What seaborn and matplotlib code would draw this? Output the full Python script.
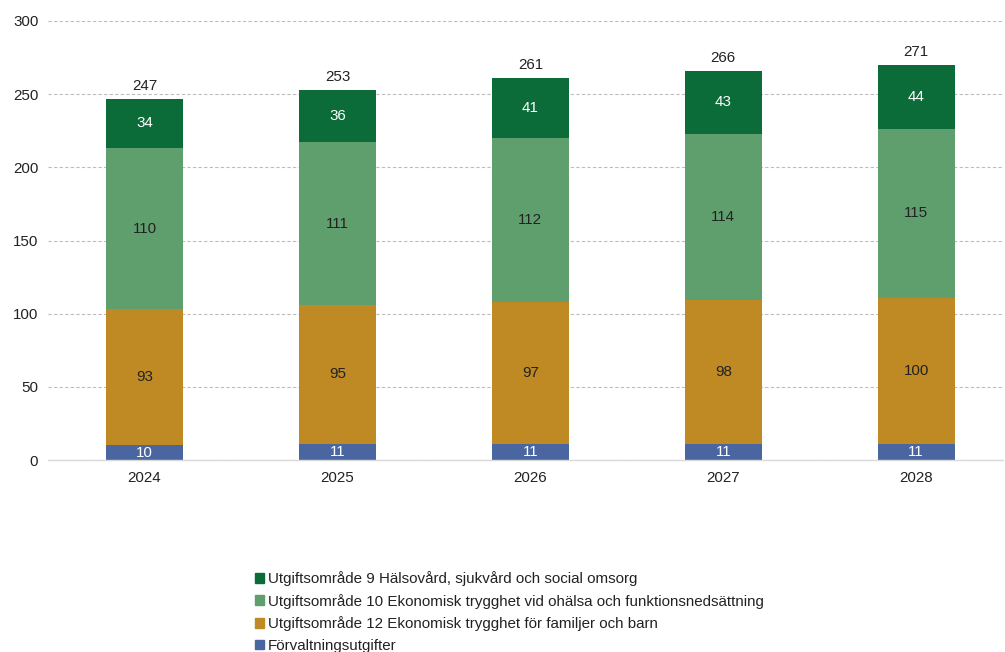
import numpy as np
import pandas as pd
import matplotlib
matplotlib.use("Agg")
import matplotlib.pyplot as plt
import seaborn as sns
from matplotlib.patches import Patch

years = ["2024", "2025", "2026", "2027", "2028"]
forvaltning = [10, 11, 11, 11, 11]
uo12 = [93, 95, 97, 98, 100]
uo10 = [110, 111, 112, 114, 115]
uo9 = [34, 36, 41, 43, 44]
totals = [247, 253, 261, 266, 271]

series_names = [
    "Förvaltningsutgifter",
    "Utgiftsområde 12 Ekonomisk trygghet för familjer och barn",
    "Utgiftsområde 10 Ekonomisk trygghet vid ohälsa och funktionsnedsättning",
    "Utgiftsområde 9 Hälsovård, sjukvård och social omsorg",
]
series_values = [forvaltning, uo12, uo10, uo9]
colors = ["#4a66a1", "#bf8a24", "#5f9f6e", "#0b6b39"]
label_colors = ["white", "#222222", "#222222", "white"]

sns.set_theme(style="white")
plt.rcParams["font.family"] = ["Liberation Sans", "DejaVu Sans"]

FS = 10.9

fig = plt.figure(figsize=(10.05, 6.52), dpi=100)
ax = fig.add_axes([48 / 1005, 192 / 652, 955 / 1005, 439 / 652])

bottom = np.zeros(len(years))
for name, vals, col, lc in zip(series_names, series_values, colors, label_colors):
    df = pd.DataFrame({"year": years, "value": vals})
    sns.barplot(data=df, x="year", y="value", color=col, width=0.4,
                bottom=bottom, ax=ax, saturation=1, errorbar=None,
                linewidth=0, edgecolor=col)
    for i, v in enumerate(vals):
        ax.text(i, bottom[i] + v / 2, str(v), ha="center", va="center",
                fontsize=FS, color=lc)
    bottom = bottom + np.array(vals)

for i, t in enumerate(totals):
    ax.text(i, bottom[i] + 4, str(t), ha="center", va="bottom",
            fontsize=FS, color="#222222")

ax.set_ylim(0, 300)
ax.set_xlim(-0.5, 4.45)
ax.set_yticks(range(0, 301, 50))
ax.yaxis.grid(True, linestyle=(0, (3, 2)), color="#bdbdbd", linewidth=0.8)
ax.set_axisbelow(True)
for s in ["top", "right", "left"]:
    ax.spines[s].set_visible(False)
ax.spines["bottom"].set_color("#d9d9d9")
ax.spines["bottom"].set_linewidth(1.0)
ax.tick_params(axis="both", length=0, labelsize=FS, colors="#222222")
ax.tick_params(axis="y", pad=7)
ax.tick_params(axis="x", pad=8)
ax.set_xlabel("")
ax.set_ylabel("")

handles = [Patch(facecolor=c, edgecolor=c) for c in colors[::-1]]
fig.legend(handles, series_names[::-1], loc="upper left",
           bbox_to_anchor=(249 / 1005, 1 - 565 / 652), frameon=False,
           fontsize=FS, handlelength=0.6, handleheight=0.6,
           handletextpad=0.25, labelspacing=0.5, borderaxespad=0,
           labelcolor="#222222")

fig.savefig("out.png", dpi=100)
